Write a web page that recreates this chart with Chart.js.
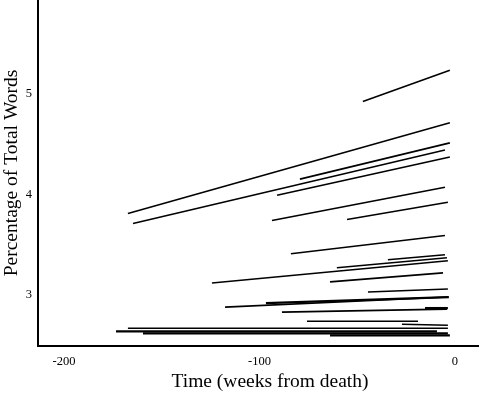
<!DOCTYPE html>
<html>
<head>
<meta charset="utf-8">
<script src="https://cdn.jsdelivr.net/npm/chart.js@4.4.0/dist/chart.umd.min.js"></script>
<style>
  html, body { margin: 0; padding: 0; background: #fff; }
</style>
</head>
<body>
<canvas id="chart" width="480" height="396"></canvas>
<script>
// Each segment: a fitted trend from its first to its last week
const startWeeks = [-47.1, -167.3, -164.7, -79.3, -91.0, -93.6, -55.2, -83.9, -124.3, -60.4, -34.3, -63.9, -44.5, -96.7, -117.6, -88.5, -15.3, -75.7, -27.1, -167.3, -173.4, -159.6, -63.9];
const startPct   = [4.92, 3.81, 3.71, 4.15, 3.99, 3.74, 3.75, 3.41, 3.12, 3.27, 3.35, 3.13, 3.03, 2.92, 2.88, 2.83, 2.87, 2.74, 2.71, 2.67, 2.64, 2.62, 2.60];
const endWeeks   = [-2.6, -2.6, -5.1, -2.6, -2.6, -5.1, -3.6, -5.1, -3.6, -4.1, -5.1, -6.1, -3.6, -3.1, -3.6, -4.1, -3.6, -18.9, -3.6, -3.6, -9.2, -3.6, -2.6];
const endPct     = [5.23, 4.71, 4.44, 4.51, 4.37, 4.07, 3.92, 3.59, 3.34, 3.37, 3.40, 3.22, 3.06, 2.98, 2.98, 2.86, 2.87, 2.74, 2.70, 2.67, 2.64, 2.62, 2.60];

const xTicks = [-200, -100, 0];
const yTicks = [3, 4, 5];

// segments drawn with a heavier stroke in the original
const heavy = [13, 16, 20, 21, 22];

const serif = 'Liberation Serif, Times New Roman, serif';

const datasets = startWeeks.map((sx, i) => ({
  data: [{ x: sx, y: startPct[i] }, { x: endWeeks[i], y: endPct[i] }],
  showLine: true,
  borderColor: '#000',
  borderWidth: heavy.includes(i) ? 2.3 : 1.6,
  pointRadius: 0,
  pointHoverRadius: 0
}));

// x axis title sits a bit right of the plot centre in the original
const xTitlePlugin = {
  id: 'xTitle',
  afterDraw(chart) {
    const ctx = chart.ctx;
    ctx.save();
    ctx.fillStyle = '#000';
    ctx.font = '19.5px ' + serif;
    ctx.textAlign = 'center';
    ctx.textBaseline = 'middle';
    ctx.fillText('Time (weeks from death)', 270, 382);
    ctx.restore();
  }
};

new Chart(document.getElementById('chart'), {
  type: 'scatter',
  data: { datasets },
  options: {
    responsive: false,
    animation: false,
    devicePixelRatio: 1,
    layout: { padding: { left: 0, right: 2, top: 0, bottom: 0 } },
    plugins: { legend: { display: false }, tooltip: { enabled: false } },
    scales: {
      x: {
        type: 'linear',
        min: -213.3,
        max: 11.8,
        afterBuildTicks: s => { s.ticks = xTicks.map(v => ({ value: v })); },
        afterFit: s => { s.height = 50; s.paddingLeft = 0; s.paddingRight = 0; },
        grid: { display: false, drawTicks: false },
        border: { display: true, color: '#000', width: 2 },
        ticks: { color: '#000', padding: 8, font: { family: serif, size: 12.5 } }
      },
      y: {
        type: 'linear',
        min: 2.494,
        max: 5.928,
        afterBuildTicks: s => { s.ticks = yTicks.map(v => ({ value: v })); },
        afterFit: s => { s.width = 38; s.paddingTop = 0; s.paddingBottom = 0; },
        grid: { display: false, drawTicks: false },
        border: { display: true, color: '#000', width: 2 },
        ticks: { color: '#000', padding: 6, font: { family: serif, size: 12.5 } },
        title: {
          display: true,
          text: 'Percentage of Total Words',
          color: '#000',
          padding: 0,
          font: { family: serif, size: 19.5 }
        }
      }
    }
  },
  plugins: [xTitlePlugin]
});
</script>
</body>
</html>
